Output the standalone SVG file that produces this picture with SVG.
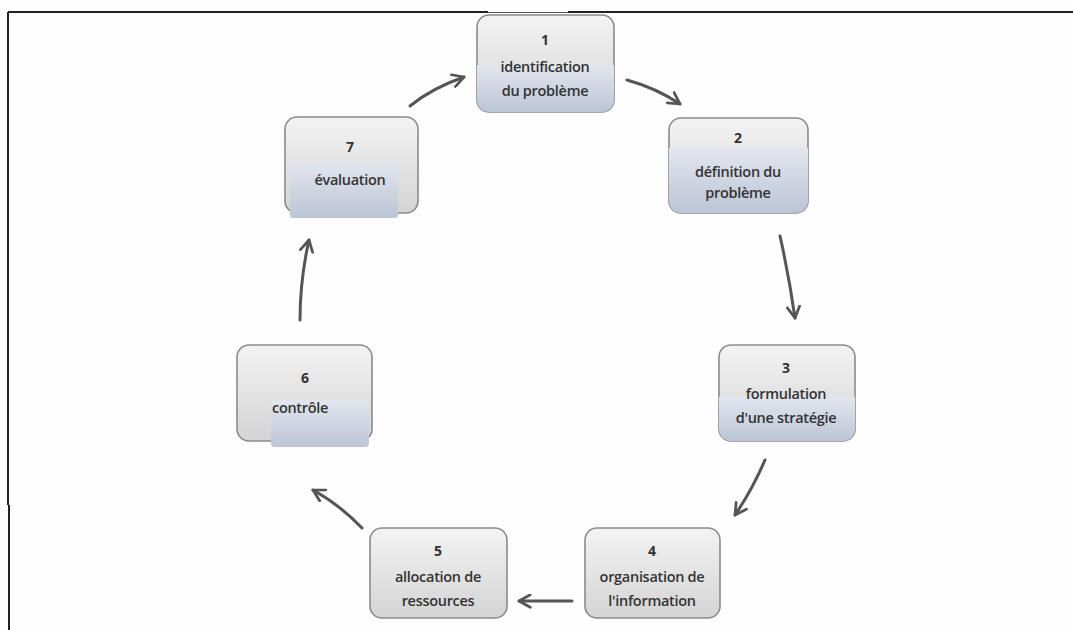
<svg xmlns="http://www.w3.org/2000/svg" width="1073" height="630" viewBox="0 0 1073 630">
<style>
.box{stroke:#8a8a8a;stroke-width:1.6;fill:url(#grey)}
.blue{fill:url(#blu)}
.t{font-family:"Open Sans","Liberation Sans",sans-serif;font-size:14.5px;font-weight:600;fill:#333;text-anchor:middle;letter-spacing:-0.3px}
.n{font-family:"Open Sans","Liberation Sans",sans-serif;font-size:14px;font-weight:700;fill:#333;text-anchor:middle}
.arr{fill:none;stroke:#555;stroke-width:3;stroke-linecap:round;marker-end:url(#ah)}
</style>
<defs>
<linearGradient id="grey" x1="0" y1="0" x2="0" y2="1">
<stop offset="0" stop-color="#f3f3f3"/><stop offset="1" stop-color="#d4d4d4"/>
</linearGradient>
<linearGradient id="blu" x1="0" y1="0" x2="0" y2="1">
<stop offset="0" stop-color="#e2e6ee"/><stop offset="1" stop-color="#bcc5d6"/>
</linearGradient>
<marker id="ah" viewBox="0 0 12 12" refX="10" refY="6" markerWidth="5" markerHeight="5" orient="auto" markerUnits="strokeWidth">
<polyline points="1,1 10,6 1,11" fill="none" stroke="#555" stroke-width="2.2" stroke-linecap="round" stroke-linejoin="round"/>
</marker>
<clipPath id="c1"><rect x="477" y="15" width="137" height="97" rx="12"/></clipPath>
<clipPath id="c2"><rect x="669" y="118" width="139" height="95" rx="12"/></clipPath>
<clipPath id="c3"><rect x="719" y="345" width="136" height="96" rx="12"/></clipPath>
</defs>
<rect width="1073" height="630" fill="#fdfdfd"/>
<g id="frame" stroke="#222" fill="none">
<line x1="8" y1="12" x2="488" y2="12" stroke-width="2"/>
<line x1="568" y1="12" x2="1073" y2="12" stroke-width="2"/>
<line x1="488" y1="12.5" x2="568" y2="12.5" stroke-width="1" stroke="#555"/>
<line x1="8" y1="12" x2="8" y2="505" stroke-width="2"/>
<line x1="9" y1="505" x2="9" y2="630" stroke-width="2"/>
</g>
<g id="node1">
<rect class="box" x="477" y="15" width="137" height="97" rx="12"/>
<rect class="blue" x="477" y="65" width="137" height="47" clip-path="url(#c1)"/>
<text class="n" x="545" y="45">1</text>
<text class="t" x="545" y="72">identification</text>
<text class="t" x="545" y="96">du problème</text>
</g>
<g id="node2">
<rect class="box" x="669" y="118" width="139" height="95" rx="12"/>
<rect class="blue" x="669" y="148" width="139" height="65" clip-path="url(#c2)"/>
<text class="n" x="738" y="143">2</text>
<text class="t" x="738" y="177">définition du</text>
<text class="t" x="738" y="198">problème</text>
</g>
<g id="node3">
<rect class="box" x="719" y="345" width="136" height="96" rx="12"/>
<rect class="blue" x="719" y="397" width="136" height="44" clip-path="url(#c3)"/>
<text class="n" x="786" y="373">3</text>
<text class="t" x="786" y="399">formulation</text>
<text class="t" x="786" y="423">d'une stratégie</text>
</g>
<g id="node4">
<rect class="box" x="585" y="528" width="135" height="90" rx="12"/>
<text class="n" x="652" y="556">4</text>
<text class="t" x="652" y="582">organisation de</text>
<text class="t" x="652" y="606">l'information</text>
</g>
<g id="node5">
<rect class="box" x="370" y="528" width="137" height="90" rx="12"/>
<text class="n" x="438" y="556">5</text>
<text class="t" x="438" y="582">allocation de</text>
<text class="t" x="438" y="606">ressources</text>
</g>
<g id="node6">
<rect class="box" x="237" y="345" width="135" height="96" rx="12"/>
<rect class="blue" x="271" y="400" width="98" height="47" rx="4"/>
<text class="n" x="305" y="383">6</text>
<text class="t" x="272" y="413" style="text-anchor:start">contrôle</text>
</g>
<g id="node7">
<rect class="box" x="285" y="117" width="133" height="96" rx="12"/>
<rect class="blue" x="290" y="162" width="108" height="56" rx="3"/>
<text class="n" x="350" y="152">7</text>
<text class="t" x="350" y="185">évaluation</text>
</g>
<g id="connectors">
<path class="arr" d="M410,106 Q432,88 464,77"/>
<path class="arr" d="M627,80 Q656,88 680,104"/>
<path class="arr" d="M780,236 Q789,276 795,318"/>
<path class="arr" d="M765,460 Q752,490 735,515"/>
<path class="arr" d="M572,601 L519,601"/>
<path class="arr" d="M362,528 Q340,505 313,490"/>
<path class="arr" d="M300,320 Q300,280 309,240"/>
</g>
</svg>
